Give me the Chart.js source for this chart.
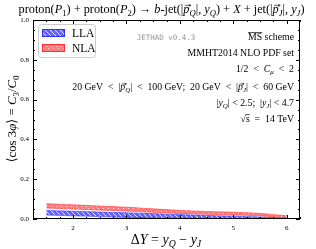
<!DOCTYPE html>
<html><head><meta charset="utf-8">
<script src="https://cdn.jsdelivr.net/npm/chart.js@4"></script>
<style>html,body{margin:0;padding:0;background:#fff}#w{width:316px;height:249px}</style>
</head><body><div id="w"><canvas id="c" width="316" height="249"></canvas></div>
<script>
const deltaY = [1.5, 2, 2.5, 3, 3.5, 4, 4.5, 5, 5.5, 6];
const llaUpper = [0.043, 0.039, 0.035, 0.031, 0.027, 0.022, 0.018, 0.014, 0.010, 0.004];
const llaLower = [0.020, 0.016, 0.012, 0.008, 0.006, 0.004, 0.003, 0.002, 0.001, 0.000];
const nlaUpper = [0.077, 0.071, 0.065, 0.059, 0.051, 0.043, 0.038, 0.034, 0.028, 0.016];
const nlaLower = [0.055, 0.050, 0.045, 0.040, 0.034, 0.028, 0.024, 0.020, 0.016, 0.006];
const xTicks = [2, 3, 4, 5, 6];
const yTicks = [0.0, 0.2, 0.4, 0.6, 0.8, 1.0];
const seriesNames = ["LLA", "NLA"];

const SERIF = '"Liberation Serif","DejaVu Serif",serif';

function makePattern(kind){
  const c = document.createElement('canvas');
  c.width = 5; c.height = 5;
  const g = c.getContext('2d');
  if (kind === 'blue'){
    g.fillStyle = 'rgba(60,60,255,0.8)'; g.fillRect(0,0,5,5);
    g.strokeStyle = 'rgba(255,255,255,0.85)'; g.lineWidth = 1;
    g.beginPath(); g.moveTo(0,0); g.lineTo(5,5); g.moveTo(-3,2); g.lineTo(2,7); g.moveTo(2,-3); g.lineTo(7,2); g.stroke();
  } else {
    g.fillStyle = 'rgba(255,70,70,0.7)'; g.fillRect(0,0,5,5);
    g.fillStyle = 'rgba(255,255,255,0.8)';
    g.fillRect(1,1,1,1); g.fillRect(3,3,1,1);
  }
  return document.getElementById('c').getContext('2d').createPattern(c,'repeat');
}
const bluePat = makePattern('blue');
const redPat = makePattern('red');

function pts(ys){ return deltaY.map((x,i)=>({x:x, y:ys[i]})); }

function setFont(ctx, s, size){
  const sub = s[0]==='s';
  const it = s.indexOf('i')>=0 || s==='v';
  ctx.font = (it?'italic ':'') + (sub? size*0.7 : size) + 'px ' + SERIF;
  return sub;
}
function richWidth(ctx, segs, size){
  let w = 0;
  for (const [t, s] of segs){ setFont(ctx, s, size); w += ctx.measureText(t).width; }
  return w;
}
function drawRich(ctx, segs, x, y, size, align){
  const w = richWidth(ctx, segs, size);
  let cx = align==='center' ? x - w/2 : align==='right' ? x - w : x;
  ctx.textBaseline = 'alphabetic'; ctx.textAlign = 'left';
  for (const [t, s] of segs){
    const sub = setFont(ctx, s, size);
    const yy = sub ? y + size*0.22 : y;
    ctx.fillText(t, cx, yy);
    const tw = ctx.measureText(t).width;
    if (s==='o') ctx.fillRect(cx, y - size*0.78, tw, 0.7);
    if (s==='v'){
      const ay = y - size*0.62, x0 = cx + size*0.12, x1 = cx + tw + size*0.12;
      ctx.save(); ctx.strokeStyle = ctx.fillStyle; ctx.lineWidth = 0.6;
      ctx.beginPath(); ctx.moveTo(x0, ay); ctx.lineTo(x1, ay);
      ctx.moveTo(x1 - size*0.18, ay - size*0.1); ctx.lineTo(x1, ay); ctx.lineTo(x1 - size*0.18, ay + size*0.1);
      ctx.stroke(); ctx.restore();
    }
    cx += tw;
  }
}
const R = '\u2002<\u2002', EQ = '\u2002=\u2002';

const decor = {
  id:'decor',
  afterDraw(chart){
    const ctx = chart.ctx, a = chart.chartArea;
    const xs = chart.scales.x, ys = chart.scales.y;
    ctx.save();
    ctx.fillStyle = '#000';
    ctx.strokeStyle = '#000'; ctx.lineWidth = 1;
    ctx.strokeRect(a.left+0.5, a.top+0.5, a.right-a.left-1, a.bottom-a.top-1);
    ctx.beginPath();
    for (let v=1.25; v<=6.25+1e-9; v+=0.25){
      const px = Math.round(xs.getPixelForValue(v))+0.5;
      const major = Math.abs(v-Math.round(v))<1e-9;
      const L = major?4:2;
      ctx.moveTo(px, a.bottom); ctx.lineTo(px, a.bottom-L);
      ctx.moveTo(px, a.top); ctx.lineTo(px, a.top+L);
    }
    for (let v=0; v<=1+1e-9; v+=0.05){
      const py = Math.round(ys.getPixelForValue(v))+0.5;
      const major = Math.abs(v*5-Math.round(v*5))<1e-6;
      const L = major?4:2;
      ctx.moveTo(a.left, py); ctx.lineTo(a.left+L, py);
      ctx.moveTo(a.right, py); ctx.lineTo(a.right-L, py);
    }
    ctx.stroke();

    const lx=38, ly=24, lw=57, lh=33;
    ctx.fillStyle='#fff'; ctx.strokeStyle='#ccc'; ctx.lineWidth=1;
    ctx.beginPath(); ctx.roundRect(lx+0.5, ly+0.5, lw, lh, 3); ctx.fill(); ctx.stroke();
    const sw=[[bluePat,'#3030ff'],[redPat,'#ff3030']];
    seriesNames.forEach((n,i)=>{
      const sy = ly+5+i*15;
      ctx.fillStyle = sw[i][0]; ctx.fillRect(lx+4, sy, 23, 8);
      ctx.strokeStyle = sw[i][1]; ctx.strokeRect(lx+4.5, sy+0.5, 22, 7);
      ctx.fillStyle='#000'; ctx.font = '11.5px '+SERIF; ctx.textBaseline='middle'; ctx.textAlign='left';
      ctx.fillText(n, lx+34, sy+4.5);
    });

    ctx.fillStyle='#000';
    drawRich(ctx, [['proton(','n'],['P','i'],['1','sn'],[') + proton(','n'],['P','i'],['2','sn'],[') \u2192 ','n'],['b','i'],['-jet(|','n'],['p','v'],['Q','si'],['|, ','n'],['y','i'],['Q','si'],[') + ','n'],['X','i'],[' + jet(|','n'],['p','v'],['J','si'],['|, ','n'],['y','i'],['J','si'],[')','n']], 161.5, 13, 12.3, 'center');

    ctx.fillStyle='#999'; ctx.font='7.5px "DejaVu Sans Mono","Liberation Mono",monospace';
    ctx.textAlign='center'; ctx.textBaseline='alphabetic';
    ctx.fillText('JETHAD v0.4.3', 166, 40);

    ctx.fillStyle='#000';
    const rx = 294, fs = 9.8;
    drawRich(ctx, [['MS','o'],[' scheme','n']], rx, 40, fs, 'right');
    drawRich(ctx, [['MMHT2014 NLO PDF set','n']], rx, 56, fs, 'right');
    drawRich(ctx, [['1/2'+R,'n'],['C','i'],['\u03BC','si'],[R+'2','n']], rx, 72, fs, 'right');
    drawRich(ctx, [['20 GeV'+R+'|','n'],['p','v'],['Q','si'],['|'+R+'100 GeV;  20 GeV'+R+'|','n'],['p','v'],['J','si'],['|'+R+'60 GeV','n']], rx, 90, fs, 'right');
    drawRich(ctx, [['|','n'],['y','i'],['Q','si'],['| < 2.5;  |','n'],['y','i'],['J','si'],['| < 4.7','n']], rx, 106, fs, 'right');
    drawRich(ctx, [['\u221A','n'],['s','o'],[EQ+'14 TeV','n']], rx, 122, fs, 'right');

    drawRich(ctx, [['\u0394','n'],['Y','i'],[' = ','n'],['y','i'],['Q','si'],[' \u2212 ','n'],['y','i'],['J','si']], 166, 244, 14, 'center');
    ctx.save();
    ctx.translate(16, 119); ctx.rotate(-Math.PI/2);
    drawRich(ctx, [['\u27E8cos 3','n'],['\u03C6','i'],['\u27E9 = ','n'],['C','i'],['3','sn'],['/','n'],['C','i'],['0','sn']], 0, 0, 12.8, 'center');
    ctx.restore();
    ctx.restore();
  }
};

new Chart(document.getElementById('c'), {
  type:'line',
  data:{ datasets:[
    {label:'LLA low', data:pts(llaLower), borderColor:'#3030ff', borderWidth:0.6, pointRadius:0, fill:false, tension:0.3},
    {label:'LLA', data:pts(llaUpper), borderColor:'#3030ff', borderWidth:0.6, pointRadius:0, fill:'-1', backgroundColor:bluePat, tension:0.3},
    {label:'NLA low', data:pts(nlaLower), borderColor:'#ff3030', borderWidth:0.6, pointRadius:0, fill:false, tension:0.3},
    {label:'NLA', data:pts(nlaUpper), borderColor:'#ff3030', borderWidth:0.6, pointRadius:0, fill:'-1', backgroundColor:redPat, tension:0.3}
  ]},
  options:{
    responsive:false, animation:false, devicePixelRatio:1,
    layout:{padding:{left:0, top:20, right:16, bottom:0}},
    plugins:{legend:{display:false}, tooltip:{enabled:false}, title:{display:false}},
    scales:{
      x:{type:'linear', min:1.25, max:6.25,
         afterBuildTicks:s=>{s.ticks = xTicks.map(v=>({value:v}));},
         afterFit:s=>{s.height=30;},
         grid:{display:false, drawTicks:false}, border:{display:false},
         ticks:{padding:5, font:{family:SERIF, size:7}, color:'#000', maxRotation:0, callback:v=>String(v)}},
      y:{min:0, max:1,
         afterBuildTicks:s=>{s.ticks = yTicks.map(v=>({value:v}));},
         afterFit:s=>{s.width=33;},
         grid:{display:false, drawTicks:false}, border:{display:false},
         ticks:{padding:4, font:{family:SERIF, size:7}, color:'#000', callback:v=>Number(v).toFixed(1)}}
    }
  },
  plugins:[decor]
});
</script></body></html>
